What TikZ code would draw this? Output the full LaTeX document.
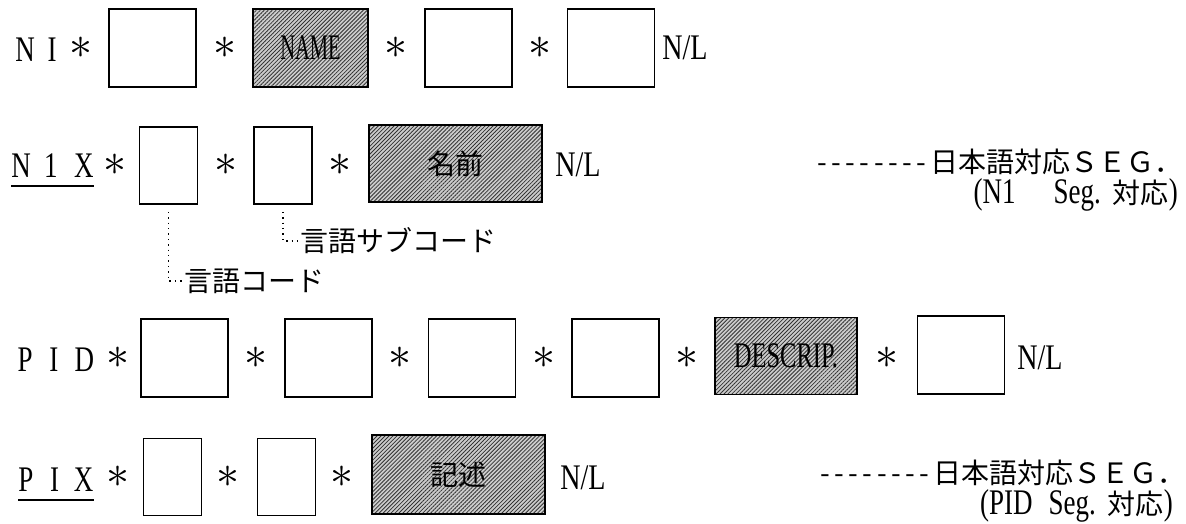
\documentclass[tikz,border=0pt]{standalone}
\usepackage{fontspec}
\usepackage{graphicx}
\newfontfamily\jp{Noto Sans CJK JP}
\newfontfamily\lat{Liberation Serif}
\usetikzlibrary{patterns.meta}

% condensed serif text, as the printer sets it
\newcommand{\cond}[2][0.75]{\scalebox{#1}[1]{\lat\fontsize{36}{38}\selectfont #2}}
\newcommand{\astsym}{\scalebox{4.6}{$\ast$}}
\newcommand{\dashrun}{\foreach \k in {1,...,8}{-\kern4.5pt}}

\tikzset{
  fld/.style={draw, line width=1.5pt, inner sep=0pt, minimum width=87pt, minimum height=78pt},
  nfld/.style={fld, minimum width=58pt, minimum height=77pt},
  hfld/.style={draw, line width=1.5pt, inner sep=0pt, minimum height=78pt,
    preaction={fill=gray!40},
    pattern={Lines[angle=45,distance=2.8pt,line width=0.8pt]}, pattern color=black!80},
  lbl/.style={inner sep=0pt},
  jtxt/.style={inner sep=0pt, font=\jp\fontsize{28}{30}\selectfont},
  lead/.style={line width=1.3pt, dash pattern=on 1.4pt off 4pt},
}

\begin{document}
\begin{tikzpicture}[x=1pt,y=-1pt]
\useasboundingbox (0,0) rectangle (1186,524);

% N1 segment
\node[lbl] (ni) at (36,50) {\cond{N\hspace{17pt}I}};
\node[lbl] (nis0) at (81,48) {\astsym};
\node[fld] (ni1) at (152.5,48) {};
\node[lbl] (nis1) at (225,48) {\astsym};
\node[hfld, minimum width=115pt] (ni2) at (310.5,48) {\cond[0.57]{NAME}};
\node[lbl] (nis2) at (396,48) {\astsym};
\node[fld] (ni3) at (468.5,48) {};
\node[lbl] (nis3) at (540,48) {\astsym};
\node[fld] (ni4) at (611,48) {};
\node[lbl] (ninl) at (685,48) {\cond[0.78]{N/L}};

% N1X segment
\node[lbl] (nx) at (52.5,166) {\cond{N\hspace{18pt}1\hspace{22pt}X}};
\draw[line width=1.3pt] ([yshift=-8pt]nx.south west) -- ([yshift=-8pt]nx.south east);
\node[lbl] (nxs0) at (115,165) {\astsym};
\node[nfld] (nx1) at (168.5,165.5) {};
\node[lbl] (nxs1) at (226,165) {\astsym};
\node[nfld] (nx2) at (283,165.5) {};
\node[lbl] (nxs2) at (340,165) {\astsym};
\node[hfld, minimum width=173pt, minimum height=77pt, font=\jp\fontsize{28}{30}\selectfont] (nx3) at (455.5,163.5) {名前};
\node[lbl] (nxnl) at (578,165) {\cond[0.78]{N/L}};

\node[jtxt, anchor=west] (lc) at (184,281) {言語コード};
\node[jtxt, anchor=west] (lsc) at (300,241) {言語サブコード};
\draw[lead, shorten <=7pt] (nx1.south) |- (lc.west);
\draw[lead, shorten <=7pt] (nx2.south) |- (lsc.west);

\node[jtxt, anchor=west] (jn1) at (817,162) {\dashrun 日本語対応ＳＥＧ．};
\node[lbl, anchor=east] (jn2) at (1178,195)
  {\cond{(N1}\hspace{38pt}\cond{Seg.}\hspace{12pt}{\jp\fontsize{28}{30}\selectfont 対応}\cond{)}};

% PID segment
\node[lbl] (pd) at (56,360) {\cond{P\hspace{22pt}I\hspace{22pt}D}};
\node[lbl] (pds0) at (118,358) {\astsym};
\foreach \i/\x in {1/184.5,2/328.5,3/472,4/615.5}
  \node[fld] (pd\i) at (\x,358) {};
\foreach \i/\x in {1/256,2/400,3/544,4/687}
  \node[lbl] (pds\i) at (\x,358) {\astsym};
\node[hfld, minimum width=142pt, minimum height=77pt] (pd5) at (786,356) {\cond[0.68]{DESCRIP.}};
\node[lbl] (pds5) at (887,358) {\astsym};
\node[fld] (pd6) at (961,355) {};
\node[lbl] (pdnl) at (1040,358) {\cond[0.78]{N/L}};

% PIX segment
\node[lbl] (px) at (56,480) {\cond{P\hspace{22pt}I\hspace{20pt}X}};
\draw[line width=1.3pt] ([yshift=-8pt]px.south west) -- ([yshift=-8pt]px.south east);
\node[lbl] (pxs0) at (118,477) {\astsym};
\node[nfld] (px1) at (172.5,477) {};
\node[lbl] (pxs1) at (228,477) {\astsym};
\node[nfld] (px2) at (286.5,477) {};
\node[lbl] (pxs2) at (342,477) {\astsym};
\node[hfld, minimum width=173pt, minimum height=79pt, font=\jp\fontsize{28}{30}\selectfont] (px3) at (458.5,474.5) {記述};
\node[lbl] (pxnl) at (583,478) {\cond[0.78]{N/L}};

\node[jtxt, anchor=west] (jp1) at (820,473) {\dashrun 日本語対応ＳＥＧ．};
\node[lbl, anchor=east] (jp2) at (1173,506)
  {\cond{(PID}\hspace{16pt}\cond{Seg.}\hspace{12pt}{\jp\fontsize{28}{30}\selectfont 対応}\cond{)}};
\end{tikzpicture}
\end{document}
